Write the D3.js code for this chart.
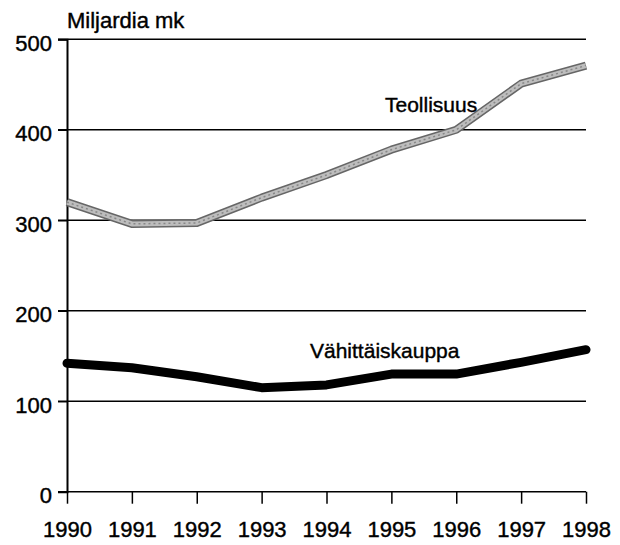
<!DOCTYPE html>
<html>
<head>
<meta charset="utf-8">
<script src="https://cdn.jsdelivr.net/npm/d3@7"></script>
<style>
  html, body { margin: 0; padding: 0; background: #fff; }
  svg { display: block; }
  text { font-family: "Liberation Sans", Arial, sans-serif; fill: #000; }
</style>
</head>
<body>
<svg id="chart" width="620" height="545"></svg>
<script>
const years = [1990, 1991, 1992, 1993, 1994, 1995, 1996, 1997, 1998];
const teollisuus = [320, 296, 297, 325, 350, 378, 400, 451, 471];
const vahittaiskauppa = [142, 137, 127, 115, 118, 130, 130, 143, 157];
const yTicks = [0, 100, 200, 300, 400, 500];
const yTitle = "Miljardia mk";
const seriesLabels = ["Teollisuus", "Vähittäiskauppa"];

const FONT = "Liberation Sans, Arial, sans-serif";
const svg = d3.select("#chart");
const x = d3.scaleLinear().domain([1990, 1998]).range([67, 586]);
const y = d3.scaleLinear().domain([0, 500]).range([491.7, 39.3]);

// gridlines
svg.append("g")
  .selectAll("line")
  .data(yTicks)
  .join("line")
  .attr("x1", 58).attr("x2", 586)
  .attr("y1", d => y(d)).attr("y2", d => y(d))
  .attr("stroke", "#000").attr("stroke-width", 1.5);

// y axis
const yAxis = d3.axisLeft(y).tickValues(yTicks).tickSize(9).tickPadding(6).tickFormat(d3.format("d"));
const gy = svg.append("g").attr("transform", "translate(67,0)").call(yAxis);
gy.select(".domain").attr("stroke", "#000").attr("stroke-width", 2);
gy.selectAll(".tick line").attr("stroke-width", 1.5);
gy.selectAll("text").attr("font-size", 22).attr("dy", "0.5em")
  .style("font-family", FONT).attr("stroke", "#000").attr("stroke-width", 0.4);

// x axis
const xAxis = d3.axisBottom(x).tickValues(years).tickSize(12).tickPadding(18).tickFormat(d3.format("d"));
const gx = svg.append("g").attr("transform", "translate(0," + y(0) + ")").call(xAxis);
gx.select(".domain").remove();
gx.selectAll(".tick line").attr("stroke-width", 1.5);
gx.selectAll("text").attr("font-size", 22)
  .style("font-family", FONT).attr("stroke", "#000").attr("stroke-width", 0.4);

const line = d3.line().x((d, i) => x(years[i])).y(d => y(d)).curve(d3.curveLinear);

// Teollisuus: textured grey band
svg.append("path").datum(teollisuus).attr("d", line)
  .attr("fill", "none").attr("stroke", "#666").attr("stroke-width", 8).attr("stroke-linejoin", "round");
svg.append("path").datum(teollisuus).attr("d", line)
  .attr("fill", "none").attr("stroke", "#bdbdbd").attr("stroke-width", 5).attr("stroke-linejoin", "round");
svg.append("path").datum(teollisuus).attr("d", line)
  .attr("fill", "none").attr("stroke", "#888").attr("stroke-width", 1.5).attr("stroke-dasharray", "2,3");

// Vähittäiskauppa: thick black
svg.append("path").datum(vahittaiskauppa).attr("d", line)
  .attr("fill", "none").attr("stroke", "#000").attr("stroke-width", 9)
  .attr("stroke-linejoin", "round").attr("stroke-linecap", "round");

// labels
const lab = (t, lx, ly, fs) => svg.append("text").attr("x", lx).attr("y", ly)
  .attr("font-size", fs).attr("stroke", "#000").attr("stroke-width", 0.4).text(t);
lab(yTitle, 67, 28, 22);
lab(seriesLabels[0], 385, 112, 21);
lab(seriesLabels[1], 310, 358, 21);
</script>
</body>
</html>
